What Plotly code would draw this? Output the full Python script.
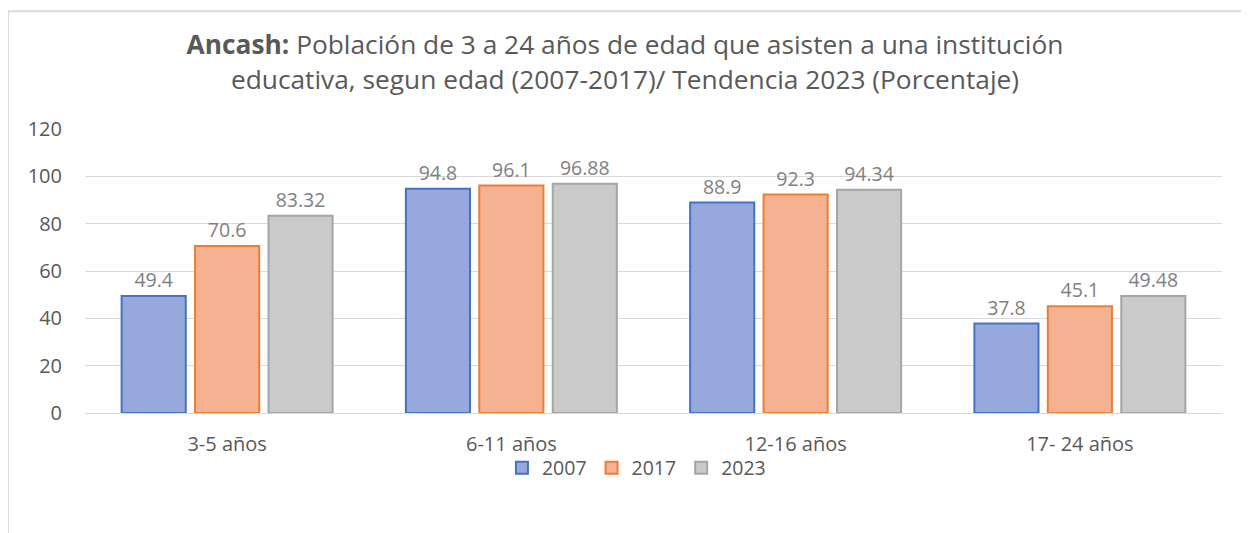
import plotly.graph_objects as go

categories = ["3-5 años", "6-11 años", "12-16 años", "17- 24 años"]
years = ["2007", "2017", "2023"]
values_2007 = [49.4, 94.8, 88.9, 37.8]
values_2017 = [70.6, 96.1, 92.3, 45.1]
values_2023 = [83.32, 96.88, 94.34, 49.48]
labels_2007 = ["49.4", "94.8", "88.9", "37.8"]
labels_2017 = ["70.6", "96.1", "92.3", "45.1"]
labels_2023 = ["83.32", "96.88", "94.34", "49.48"]

FILL = ["#97a9dc", "#f5b293", "#cacaca"]
LINE = ["#4472c4", "#ed7d31", "#a5a5a5"]
TEXT = "#595959"
FONT = "Open Sans"

fig = go.Figure()
for i, (name, vals, labs) in enumerate(zip(
        years, [values_2007, values_2017, values_2023],
        [labels_2007, labels_2017, labels_2023])):
    fig.add_trace(go.Bar(
        x=categories, y=vals, name=name,
        text=labs, textposition="outside", cliponaxis=False,
        textfont=dict(size=19.5, color="#7f7f7f", family=FONT),
        marker=dict(color=FILL[i], line=dict(color=LINE[i], width=2)),
    ))

# page body adds an 8px offset, margins compensate for it
fig.update_layout(
    width=1249, height=533,
    paper_bgcolor="white", plot_bgcolor="white",
    font=dict(family=FONT, color=TEXT, size=19),
    margin=dict(l=77, r=35, t=121, b=128),
    barmode="group", bargap=0.225, bargroupgap=0.127,
    title=dict(
        text="<b>Ancash:</b> Población de 3 a 24 años de edad que asisten a una institución<br>"
             "educativa, segun edad (2007-2017)/ Tendencia 2023 (Porcentaje)",
        x=0.494, xanchor="center", y=0.913, yanchor="top",
        font=dict(size=26.3, color=TEXT, family=FONT),
    ),
    legend=dict(orientation="h", x=0.485, xanchor="center", y=-0.125, yanchor="top",
                bgcolor="rgba(0,0,0,0)",
                font=dict(size=19.5, color=TEXT), traceorder="normal"),
    yaxis=dict(range=[0, 120], dtick=20, gridcolor="#d9d9d9", zeroline=False,
               showline=False, ticks="", ticklabelstandoff=22,
               tickfont=dict(size=20, color=TEXT)),
    xaxis=dict(showline=True, linecolor="#d9d9d9", linewidth=1, ticks="",
               tickfont=dict(size=20, color=TEXT), ticklabelstandoff=13),
    showlegend=True,
)

fig.add_shape(type="rect", xref="paper", yref="paper",
              x0=-0.0677, x1=1.1, y0=-0.5, y1=1.415,
              line=dict(color="#d9d9d9", width=2), fillcolor="rgba(0,0,0,0)",
              layer="below")

fig.write_html("out.html")
